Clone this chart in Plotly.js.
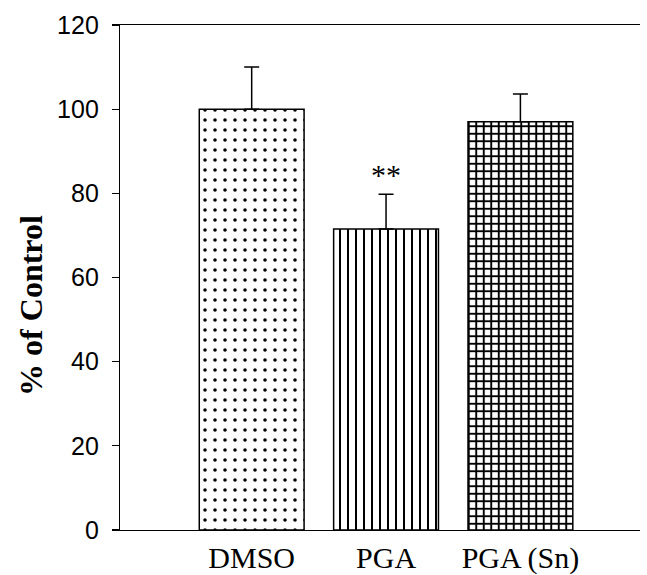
<!DOCTYPE html>
<html>
<head>
<meta charset="utf-8">
<script src="https://cdn.plot.ly/plotly-3.0.1.min.js"></script>
<style>html,body{margin:0;padding:0;background:#fff;}#chart{width:647px;height:575px;}</style>
</head>
<body>
<div id="chart"></div>
<script>
var categories = ["DMSO", "PGA", "PGA (Sn)"];
var values = [100, 71.5, 97];
var errorsUp = [10, 8.3, 6.6];
var patternShapes = [".", "|", "+"];
var patternSizes = [10, 8, 7.5];
var patternSolidity = [0.1, 0.25, 0.45];
var significance = ["", "**", ""];
var yTicks = [0, 20, 40, 60, 80, 100, 120];
var yTitle = "% of Control";

var traces = categories.map(function (c, i) {
  return {
    type: "bar",
    x: [c],
    y: [values[i]],
    width: 0.78,
    marker: {
      color: "white",
      line: {color: "black", width: 1.5},
      pattern: {shape: patternShapes[i], size: patternSizes[i], solidity: patternSolidity[i], fgcolor: "black", bgcolor: "white", fgopacity: 1}
    },
    error_y: {type: "data", symmetric: false, array: [errorsUp[i]], arrayminus: [0], color: "black", thickness: 1.5, width: 7.5},
    hoverinfo: "none",
    showlegend: false
  };
});

var annotations = [];
categories.forEach(function (c, i) {
  if (significance[i]) {
    annotations.push({
      x: c, y: values[i] + errorsUp[i], yanchor: "bottom", yshift: 1,
      text: significance[i], showarrow: false,
      font: {family: "Liberation Serif", size: 30, color: "black"}
    });
  }
});
annotations.push({
  xref: "paper", yref: "paper", x: -0.17, y: 0.445,
  xanchor: "center", yanchor: "middle", textangle: -90,
  text: "<b>" + yTitle + "</b>", showarrow: false,
  font: {family: "Liberation Serif", size: 32, color: "black"}
});

var layout = {
  width: 647, height: 575,
  margin: {l: 120, r: 7, t: 25, b: 45},
  paper_bgcolor: "white", plot_bgcolor: "white",
  barmode: "overlay",
  xaxis: {
    type: "category",
    range: [-0.98, 2.89],
    showline: true, linecolor: "black", linewidth: 1.2,
    mirror: true,
    ticks: "", showgrid: false, zeroline: false,
    tickfont: {family: "Liberation Serif", size: 30, color: "black"},
    ticklabelstandoff: 1
  },
  yaxis: {
    range: [0, 120],
    tickvals: yTicks,
    ticktext: yTicks.map(String),
    showline: true, linecolor: "black", linewidth: 1.2,
    ticks: "outside", ticklen: 7, tickwidth: 1.2, tickcolor: "black",
    showgrid: false, zeroline: false,
    tickfont: {family: "Liberation Sans", size: 25, color: "black"},
    ticklabelstandoff: 8
  },
  annotations: annotations
};

Plotly.newPlot("chart", traces, layout, {displayModeBar: false, staticPlot: true});
</script>
</body>
</html>
